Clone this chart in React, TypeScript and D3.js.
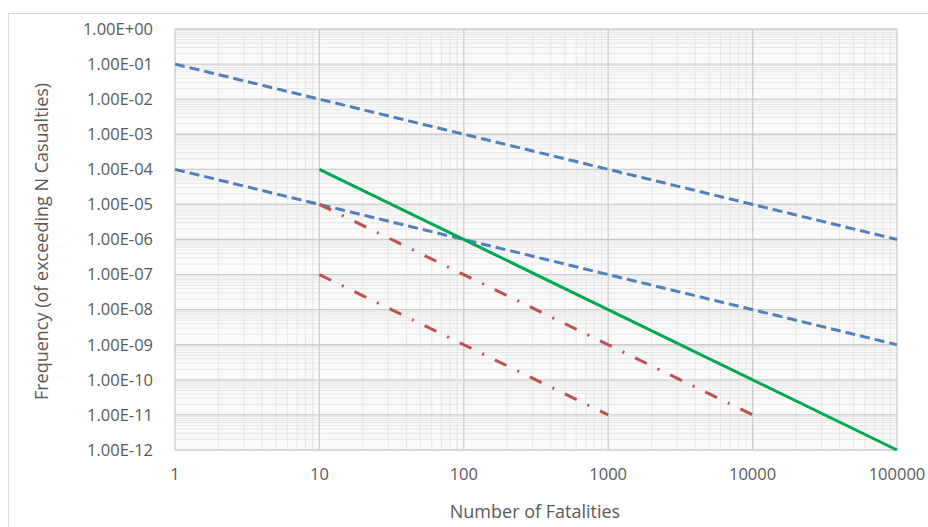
import React from "react";
import * as d3 from "d3";

// x values (Number of Fatalities) and y values (Frequency) for each criterion line
const upperX = [1, 100000];
const upperY = [1e-1, 1e-6];
const lowerX = [1, 100000];
const lowerY = [1e-4, 1e-9];
const greenX = [10, 100000];
const greenY = [1e-4, 1e-12];
const red1X = [10, 10000];
const red1Y = [1e-5, 1e-11];
const red2X = [10, 1000];
const red2Y = [1e-7, 1e-11];

const xTicks = [1, 10, 100, 1000, 10000, 100000];
const yTicks = [1e0, 1e-1, 1e-2, 1e-3, 1e-4, 1e-5, 1e-6, 1e-7, 1e-8, 1e-9, 1e-10, 1e-11, 1e-12];

const W = 928;
const H = 527;
const m = { left: 175, right: 897, top: 29, bottom: 450 };
const font = "'Open Sans', 'Liberation Sans', sans-serif";

function fmtE(v: number) {
  const e = Math.round(Math.log10(v));
  const s = e < 0 ? "-" : "+";
  return `1.00E${s}${String(Math.abs(e)).padStart(2, "0")}`;
}

export default function App() {
  const x = d3.scaleLog().domain([1, 100000]).range([m.left, m.right]);
  const y = d3.scaleLog().domain([1e-12, 1]).range([m.bottom, m.top]);

  const line = d3
    .line<[number, number]>()
    .x((d) => x(d[0]))
    .y((d) => y(d[1]));
  const pts = (xs: number[], ys: number[]) => xs.map((v, i) => [v, ys[i]] as [number, number]);

  // minor grid values
  const minorX: number[] = [];
  for (let d = 1; d < 100000; d *= 10) for (let k = 2; k <= 9; k++) minorX.push(d * k);
  const minorY: number[] = [];
  for (let e = -12; e < 0; e++) for (let k = 2; k <= 9; k++) minorY.push(k * Math.pow(10, e));

  const series = [
    { xs: upperX, ys: upperY, color: "#4f81bd", dash: "10,5", w: 3 },
    { xs: lowerX, ys: lowerY, color: "#4f81bd", dash: "10,5", w: 3 },
    { xs: red1X, ys: red1Y, color: "#c0504d", dash: "13,12,2,12", w: 3 },
    { xs: red2X, ys: red2Y, color: "#c0504d", dash: "13,12,2,12", w: 3 },
    { xs: greenX, ys: greenY, color: "#00a84f", dash: null, w: 3 },
  ];

  return (
    <svg width={W} height={H} style={{ position: "absolute", left: 0, top: 0, background: "#fff" }}>
      <rect x={8.5} y={13.5} width={940} height={540} fill="#fff" stroke="#d9d9d9" />
      <rect x={m.left} y={m.top} width={m.right - m.left} height={m.bottom - m.top} fill="#fafafa" />
      {minorX.map((v) => (
        <line key={"mx" + v} x1={x(v)} x2={x(v)} y1={m.top} y2={m.bottom} stroke="#e6e6e6" />
      ))}
      {minorY.map((v, i) => (
        <line key={"my" + i} x1={m.left} x2={m.right} y1={y(v)} y2={y(v)} stroke="#e6e6e6" />
      ))}
      {xTicks.map((v) => (
        <line key={"gx" + v} x1={x(v)} x2={x(v)} y1={m.top} y2={m.bottom} stroke="#cccccc" strokeWidth={1.3} />
      ))}
      {yTicks.map((v) => (
        <line key={"gy" + v} x1={m.left} x2={m.right} y1={y(v)} y2={y(v)} stroke="#cccccc" strokeWidth={1.3} />
      ))}
      {series.map((s, i) => (
        <path
          key={i}
          d={line(pts(s.xs, s.ys)) || ""}
          fill="none"
          stroke={s.color}
          strokeWidth={s.w}
          strokeDasharray={s.dash || undefined}
        />
      ))}
      {yTicks.map((v) => (
        <text key={"ty" + v} x={m.left - 22} y={y(v)} dy="0.35em" textAnchor="end" fontFamily={font} fontSize={16.5} fill="#595959">
          {fmtE(v)}
        </text>
      ))}
      {xTicks.map((v) => (
        <text key={"tx" + v} x={x(v)} y={m.bottom + 30} textAnchor="middle" fontFamily={font} fontSize={16.5} fill="#595959">
          {v}
        </text>
      ))}
      <text x={535} y={518} textAnchor="middle" fontFamily={font} fontSize={18} fill="#595959">
        Number of Fatalities
      </text>
      <text
        transform={`translate(48, ${(m.top + m.bottom) / 2 + 2}) rotate(-90)`}
        textAnchor="middle"
        fontFamily={font}
        fontSize={18}
        fill="#595959"
      >
        Frequency (of exceeding N Casualties)
      </text>
    </svg>
  );
}
